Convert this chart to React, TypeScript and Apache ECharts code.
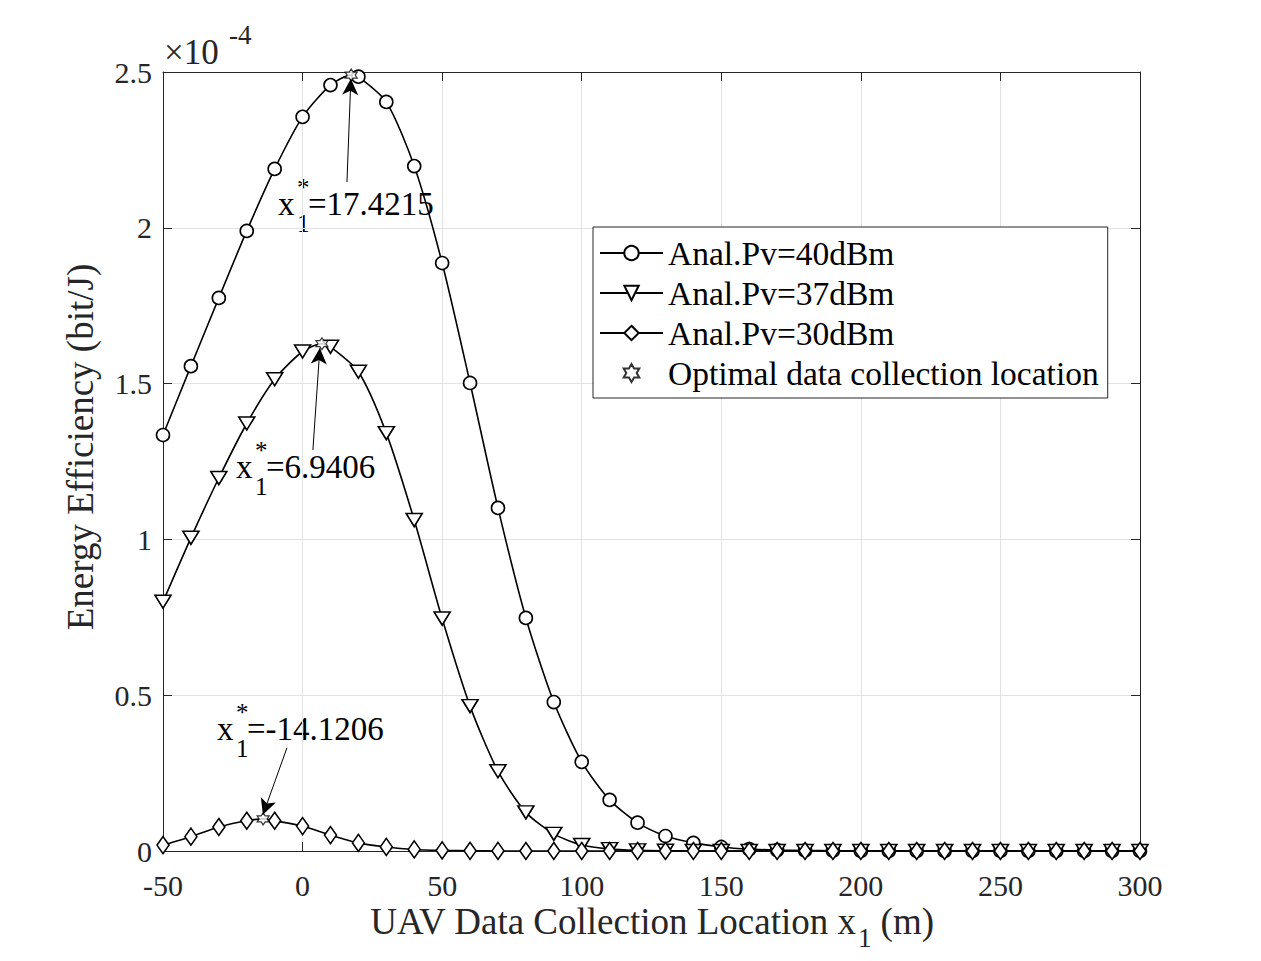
import React, { useEffect, useRef } from "react";
import * as echarts from "echarts";

// UAV data collection location (m)
const xLocations = [
  -50, -40, -30, -20, -10, 0, 10, 20, 30, 40, 50, 60, 70, 80, 90, 100, 110, 120,
  130, 140, 150, 160, 170, 180, 190, 200, 210, 220, 230, 240, 250, 260, 270, 280, 290, 300,
];

// Energy efficiency in units of 1e-4 bit/J
const eePv40 = [
  1.335, 1.556, 1.775, 1.99, 2.189, 2.356, 2.458, 2.485, 2.404, 2.198, 1.887, 1.502, 1.101,
  0.748, 0.478, 0.286, 0.164, 0.091, 0.048, 0.026, 0.013, 0.006, 0.003, 0.0015, 0.0007,
  0.0003, 0.0001, 0, 0, 0, 0, 0, 0, 0, 0, 0,
];
const eePv37 = [
  0.8, 1.005, 1.197, 1.372, 1.514, 1.603, 1.618, 1.538, 1.341, 1.062, 0.746, 0.465, 0.256,
  0.124, 0.055, 0.019, 0.006, 0.002, 0.0007, 0.0002, 0.0001, 0, 0, 0, 0, 0, 0, 0, 0, 0, 0,
  0, 0, 0, 0, 0,
];
const eePv30 = [
  0.019, 0.046, 0.077, 0.097, 0.097, 0.08, 0.051, 0.026, 0.013, 0.005, 0.002, 0.0006,
  0.0002, 0, 0, 0, 0, 0, 0, 0, 0, 0, 0, 0, 0, 0, 0, 0, 0, 0, 0, 0, 0, 0, 0, 0,
];

// Optimal data collection locations and their efficiencies
const optimumX = [17.4215, 6.9406, -14.1206];
const optimumEE = [2.49, 1.628, 0.103];
const optimumText = ["=17.4215", "=6.9406", "=-14.1206"];

// Annotation arrows: tail and head in data coordinates
const arrowTails = [
  [15.9, 2.147],
  [3.7, 1.287],
  [-5.6, 0.331],
];
const arrowHeads = [
  [17.3, 2.478],
  [6.2, 1.614],
  [-14.2, 0.116],
];
// Annotation text anchors (left edge, vertical centre) in pixels
const annotationAnchors = [
  [278, 204],
  [236, 467],
  [217, 729],
];

const seriesNames = [
  "Anal.Pv=40dBm",
  "Anal.Pv=37dBm",
  "Anal.Pv=30dBm",
  "Optimal data collection location",
];

const FONT = '"Liberation Serif", "Times New Roman", serif';
const AXIS_COLOR = "#262626";
const GRID_COLOR = "#e2e2e2";

const TRIANGLE_DOWN = "path://M0,0L16,0L8,13Z";
const HEXAGRAM =
  "path://M5,0L6.44,2.5L9.33,2.5L7.89,5L9.33,7.5L6.44,7.5L5,10L3.56,7.5L0.67,7.5L2.11,5L0.67,2.5L3.56,2.5Z";

function curveWithOptimum(values: number[], ox: number, oy: number) {
  const pts: any[] = xLocations.map((x, i) => ({ value: [x, values[i]] }));
  pts.push({ value: [ox, oy], symbol: "none" });
  pts.sort((a, b) => a.value[0] - b.value[0]);
  return pts;
}

function label(
  text: string,
  x: number,
  y: number,
  size: number,
  align: string,
  fill = AXIS_COLOR,
  rotation = 0
) {
  return {
    type: "text",
    x,
    y,
    rotation,
    silent: true,
    style: {
      text,
      font: `${size}px ${FONT}`,
      fill,
      textAlign: align,
      textVerticalAlign: "middle",
    },
  };
}

function annotation(i: number) {
  const [ax, ay] = annotationAnchors[i];
  return {
    type: "group",
    x: ax,
    y: ay,
    children: [
      label("x", 0, 0, 33, "left", "#000"),
      label("1", 19, 19, 25, "left", "#000"),
      label("*", 19, -17, 25, "left", "#000"),
      label(optimumText[i], 30, 0, 33, "left", "#000"),
    ],
  };
}

export default function App() {
  const ref = useRef<HTMLDivElement>(null);

  useEffect(() => {
    if (!ref.current) return;
    const chart = echarts.init(ref.current, undefined, { renderer: "svg" });

    const lineCommon = {
      type: "line",
      smooth: 0.25,
      symbolSize: 13,
      lineStyle: { color: "#000", width: 1.6 },
      itemStyle: { color: "#fff", borderColor: "#000", borderWidth: 1.6 },
      emphasis: { disabled: true },
      z: 3,
    };

    const boxAxis = {
      axisLine: { show: true, onZero: false, lineStyle: { color: AXIS_COLOR, width: 1 } },
      axisTick: { show: true, inside: true, length: 9, lineStyle: { color: AXIS_COLOR } },
    };

    const option: any = {
      animation: false,
      backgroundColor: "#fff",
      grid: { left: 163, right: 121, top: 72, bottom: 110, containLabel: false },
      xAxis: [
        {
          type: "value",
          min: -50,
          max: 300,
          interval: 50,
          ...boxAxis,
          axisLabel: { color: AXIS_COLOR, fontFamily: FONT, fontSize: 30, margin: 19 },
          splitLine: { show: true, lineStyle: { color: GRID_COLOR, width: 1 } },
        },
        {
          type: "value",
          position: "top",
          min: -50,
          max: 300,
          interval: 50,
          ...boxAxis,
          axisLabel: { show: false },
          splitLine: { show: false },
        },
      ],
      yAxis: [
        {
          type: "value",
          min: 0,
          max: 2.5,
          interval: 0.5,
          ...boxAxis,
          axisLabel: { color: AXIS_COLOR, fontFamily: FONT, fontSize: 30, margin: 11 },
          splitLine: { show: true, lineStyle: { color: GRID_COLOR, width: 1 } },
        },
        {
          type: "value",
          position: "right",
          min: 0,
          max: 2.5,
          interval: 0.5,
          ...boxAxis,
          axisLabel: { show: false },
          splitLine: { show: false },
        },
      ],
      legend: {
        orient: "vertical",
        left: 593,
        top: 227,
        data: seriesNames,
        itemWidth: 63,
        itemHeight: 18,
        itemGap: 6,
        padding: [9, 9, 8, 6],
        borderColor: AXIS_COLOR,
        borderWidth: 1,
        backgroundColor: "#fff",
        selectedMode: false,
        textStyle: { fontFamily: FONT, fontSize: 33.5, color: "#000", lineHeight: 31 },
      },
      series: [
        {
          ...lineCommon,
          name: seriesNames[0],
          symbol: "circle",
          data: curveWithOptimum(eePv40, optimumX[0], optimumEE[0]),
        },
        {
          ...lineCommon,
          name: seriesNames[1],
          symbol: TRIANGLE_DOWN,
          symbolSize: [16, 13],
          data: curveWithOptimum(eePv37, optimumX[1], optimumEE[1]),
        },
        {
          ...lineCommon,
          name: seriesNames[2],
          symbol: "diamond",
          symbolSize: [12, 17],
          data: curveWithOptimum(eePv30, optimumX[2], optimumEE[2]),
        },
        {
          type: "scatter",
          name: seriesNames[3],
          symbol: HEXAGRAM,
          symbolSize: 12,
          itemStyle: { color: "#fff", borderColor: "#000", borderWidth: 1.2 },
          emphasis: { disabled: true },
          z: 4,
          data: optimumX.map((x, i) => [x, optimumEE[i]]),
          markLine: {
            silent: true,
            symbol: ["none", "arrow"],
            symbolSize: [12, 16],
            label: { show: false },
            lineStyle: { color: "#000", width: 1, type: "solid" },
            emphasis: { disabled: true },
            data: arrowTails.map((tail, i) => [{ coord: tail }, { coord: arrowHeads[i] }]),
          },
        },
      ],
      graphic: [
        // Exponent of the y axis
        label("×10", 164, 52, 35, "left"),
        label("-4", 229, 35, 27, "left"),
        // Y axis title
        label("Energy Efficiency (bit/J)", 80, 447, 37, "center", AXIS_COLOR, Math.PI / 2),
        // X axis title with subscript
        label("UAV Data Collection Location x", 856, 921, 37, "right"),
        label("1", 858, 938, 27, "left"),
        label("(m)", 934, 921, 37, "right"),
        annotation(0),
        annotation(1),
        annotation(2),
      ],
    };

    chart.setOption(option);
    return () => chart.dispose();
  }, []);

  return (
    <div
      ref={ref}
      style={{ position: "fixed", left: 0, top: 0, width: 1261, height: 961, background: "#fff" }}
    />
  );
}
